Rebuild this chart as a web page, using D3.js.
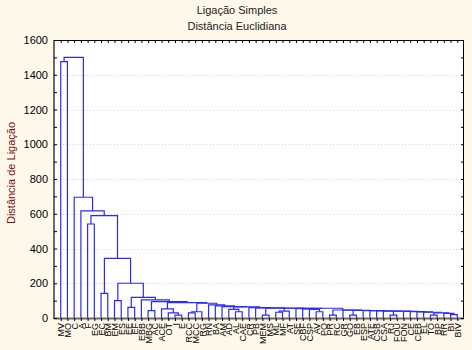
<!DOCTYPE html>
<html><head><meta charset="utf-8">
<script src="https://cdn.jsdelivr.net/npm/d3@7"></script>
<style>body{margin:0;background:#fdf8ea;overflow:hidden}</style>
</head><body>
<script>
const titleLine1 = "Ligação Simples";
const titleLine2 = "Distância Euclidiana";
const yTitle = "Distância de Ligação";

// leaves in display order
const labels = ["MV","MO","C","A","F","EG","EC","BM","EM","ES","EE","EF","EBB","MBG","AC","ACE","OT","I","E","RCC",
  "MCC","RG","RN","BA","AM","AD","AL","CAE","CR","PB","MEM","MS","ML","MF","AT","SE","CBF","CSP","AV","PO",
  "PR","RC","GR","GO","EB","ESP","ATE","CSB","CSA","RJ","FOU","FON","CE","CEB","EL","TO","BP","RR","BI","BIV"];

// linkage height at which each leaf joins its right-hand neighbour (cophenetic distance of adjacent leaves)
const joinHeights = [1475,1500,695,617,541,589,142,343,100,200,61,119,
  104,42,94,52,30,17,88,30,36,85,75,70,66,50,36,64,60,58,17,57,33,40,56,54,52,49,36,
  56,17,46,45,17,44,43,42,41,40,17,39,38,37,35,33,17,30,27,20];

const yTicks = [0,200,400,600,800,1000,1200,1400,1600];
const yMinorTicks = d3.range(0,1601,100);

const W = 472, H = 350;
const L = 54, R = 464, T = 40, B = 318;

const svg = d3.select("body").append("svg").attr("width", W).attr("height", H)
  .style("font-family", "'Liberation Sans', Arial, sans-serif");
svg.append("rect").attr("width", W).attr("height", H).attr("fill", "#fdf8ea");
svg.append("rect").attr("x", L).attr("y", T).attr("width", R - L).attr("height", B - T).attr("fill", "#ffffff");

const x = d3.scalePoint().domain(labels).range([L, R]).padding(1);
const y = d3.scaleLinear().domain([0, 1600]).range([B, T]);

// gridlines
svg.append("g").selectAll("line").data(yTicks.filter(v => v > 0 && v < 1600)).join("line")
  .attr("x1", L).attr("x2", R).attr("y1", d => Math.round(y(d)) + 0.5).attr("y2", d => Math.round(y(d)) + 0.5)
  .attr("stroke", "#d8d8d8").attr("stroke-dasharray", "1,2");

// build dendrogram from adjacent join heights
function build(lo, hi) {
  if (lo === hi) return { x: x(labels[lo]), h: 0 };
  let k = lo;
  for (let i = lo; i < hi; i++) if (joinHeights[i] > joinHeights[k]) k = i;
  const left = build(lo, k), right = build(k + 1, hi);
  return { x: (left.x + right.x) / 2, h: joinHeights[k], left, right };
}
const root = build(0, labels.length - 1);
const nodes = [];
(function walk(n) { if (n.left) { nodes.push(n); walk(n.left); walk(n.right); } })(root);

svg.append("g").attr("fill", "none").attr("stroke", "#2a2aff").attr("stroke-width", 1.2)
  .selectAll("path").data(nodes).join("path")
  .attr("d", n => `M${n.left.x},${y(n.left.h)}V${y(n.h)}H${n.right.x}V${y(n.right.h)}`);

// frame
svg.append("rect").attr("x", L + 0.5).attr("y", T + 0.5).attr("width", R - L - 1).attr("height", B - T)
  .attr("fill", "none").attr("stroke", "#000");
svg.append("line").attr("x1", L).attr("x2", L).attr("y1", T).attr("y2", B + 1).attr("stroke", "#6e6a60").attr("stroke-width", 2);
svg.append("line").attr("x1", L).attr("x2", R).attr("y1", B + 0.5).attr("y2", B + 0.5).attr("stroke", "#6e6a60").attr("stroke-width", 2);

// y axis
const yAxis = svg.append("g").attr("transform", `translate(${L},0)`)
  .call(d3.axisLeft(y).tickValues(yTicks).tickSize(0).tickPadding(6).tickFormat(d3.format("d")));
yAxis.select(".domain").remove();
yAxis.selectAll("text").attr("font-size", 11).attr("fill", "#000").attr("font-family", "'Liberation Sans', Arial, sans-serif");
const yMinor = svg.append("g").attr("transform", `translate(${L},0)`)
  .call(d3.axisLeft(y).tickValues(yMinorTicks).tickSize(-3).tickFormat(""));
yMinor.select(".domain").remove();
const yMinorR = svg.append("g").attr("transform", `translate(${R},0)`)
  .call(d3.axisRight(y).tickValues(yMinorTicks).tickSize(-3).tickFormat(""));
yMinorR.select(".domain").remove();

// x axis
const xAxis = svg.append("g").attr("transform", `translate(0,${B})`)
  .call(d3.axisBottom(x).tickSize(3));
xAxis.select(".domain").remove();
xAxis.selectAll("text").attr("transform", "rotate(-90)").attr("x", -5).attr("y", 0).attr("dy", "0.35em")
  .style("text-anchor", "end").attr("font-size", 9).attr("fill", "#000")
  .attr("font-family", "'Liberation Sans', Arial, sans-serif");
const xTop = svg.append("g").attr("transform", `translate(0,${T})`)
  .call(d3.axisTop(x).tickSize(-3).tickFormat(""));
xTop.select(".domain").remove();

// titles
svg.append("text").attr("x", 237).attr("y", 14).attr("text-anchor", "middle").attr("font-size", 11).attr("fill", "#222").text(titleLine1);
svg.append("text").attr("x", 237).attr("y", 30).attr("text-anchor", "middle").attr("font-size", 11).attr("fill", "#222").text(titleLine2);
svg.append("text").attr("transform", "translate(15,173) rotate(-90)").attr("text-anchor", "middle")
  .attr("font-size", 11).attr("fill", "#7a1010").text(yTitle);
</script>
</body></html>
